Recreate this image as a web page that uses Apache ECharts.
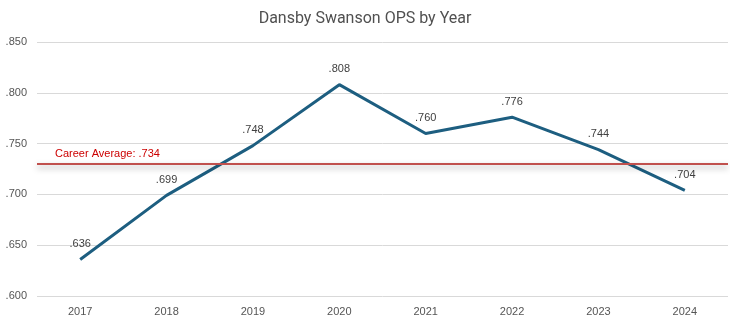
<!DOCTYPE html>
<html>
<head>
<meta charset="utf-8">
<script src="https://cdn.jsdelivr.net/npm/echarts@6/dist/echarts.min.js"></script>
<style>html,body{margin:0;padding:0;background:#fff;}#c{width:730px;height:324px;}</style>
</head>
<body>
<div id="c"></div>
<script>
const years = ['2017','2018','2019','2020','2021','2022','2023','2024'];
const ops = [0.636, 0.699, 0.748, 0.808, 0.760, 0.776, 0.744, 0.704];
const careerAvg = 0.734;
const careerLabel = 'Career Average: .734';
const title = 'Dansby Swanson OPS by Year';

const fmt = v => v.toFixed(3).replace(/^0/, '');
const chart = echarts.init(document.getElementById('c'), null, {renderer:'canvas'});
chart.setOption({
  animation: false,
  backgroundColor: '#fff',
  title: {
    text: title, left: 'center', top: 6,
    textStyle: {fontFamily: 'Roboto', fontWeight: 'normal', fontSize: 16, color: '#505050'}
  },
  grid: {left: 37, right: 2, top: 42, bottom: 28, containLabel: false},
  xAxis: {
    type: 'category', data: years, boundaryGap: true,
    axisLine: {show: false}, axisTick: {show: false},
    axisLabel: {color: '#555', fontFamily: 'Liberation Sans', fontSize: 11, margin: 10}
  },
  yAxis: {
    type: 'value', min: 0.6, max: 0.85, interval: 0.05,
    axisLine: {show: false}, axisTick: {show: false},
    axisLabel: {color: '#555', fontFamily: 'Liberation Sans', fontSize: 11, margin: 10, formatter: fmt},
    splitLine: {lineStyle: {color: '#d9d9d9', width: 1}}
  },
  series: [{
    type: 'line', data: ops, symbol: 'circle', symbolSize: 2, showSymbol: true,
    itemStyle: {color: 'rgba(0,0,0,0)'},
    lineStyle: {color: '#1d5e80', width: 3},
    label: {show: true, position: 'top', distance: 9, formatter: p => fmt(p.value),
      color: '#404040', fontFamily: 'Liberation Sans', fontSize: 11},
    markLine: {
      silent: true, symbol: 'none',
      data: [{yAxis: careerAvg}],
      lineStyle: {color: '#c0504d', width: 2, type: 'solid',
        shadowBlur: 6, shadowColor: 'rgba(0,0,0,0.35)', shadowOffsetY: 3},
      label: {show: true, position: 'insideStartTop', formatter: careerLabel,
        color: '#cc0000', fontFamily: 'Liberation Sans', fontSize: 11, distance: [18, 4]}
    }
  }]
});
</script>
</body>
</html>
